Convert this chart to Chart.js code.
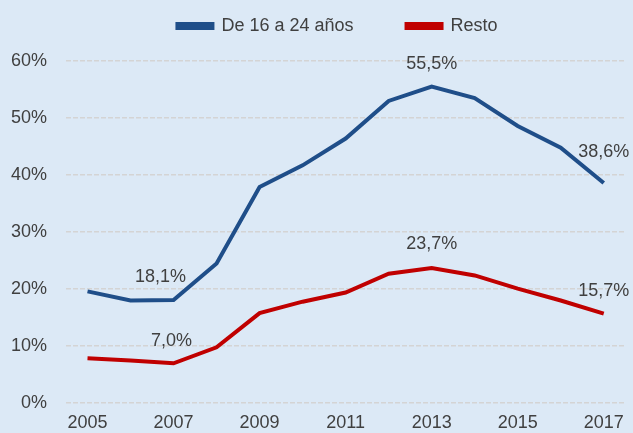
<!DOCTYPE html>
<html>
<head>
<meta charset="utf-8">
<script src="https://cdn.jsdelivr.net/npm/chart.js@4.4.1/dist/chart.umd.min.js"></script>
<style>
  html, body { margin: 0; padding: 0; background: #dce9f6; }
  #wrap { width: 633px; height: 433px; }
</style>
</head>
<body>
<div id="wrap"><canvas id="grafico" width="633" height="433"></canvas></div>
<script>
    const anios = ['2005','2006','2007','2008','2009','2010','2011','2012','2013','2014','2015','2016','2017'];
    const jovenes = [19.6, 18.0, 18.1, 24.5, 37.9, 41.7, 46.4, 53.0, 55.5, 53.5, 48.6, 44.8, 38.6];
    const resto = [7.9, 7.5, 7.0, 9.8, 15.8, 17.8, 19.4, 22.7, 23.7, 22.4, 20.1, 18.0, 15.7];
    const ticksY = [0, 10, 20, 30, 40, 50, 60];

    // indices with visible data labels
    const etiquetasJovenes = [2, 8, 12];
    const etiquetasResto = [2, 8, 12];

    const azul = '#1f4e89';
    const rojo = '#c00000';
    const fuente = '"Liberation Sans", Arial, sans-serif';

    const pluginEtiquetas = {
        id: 'etiquetas',
        afterDatasetsDraw(chart) {
            const ctx = chart.ctx;
            const x = chart.scales.x;
            const y = chart.scales.y;
            ctx.save();
            ctx.font = '18px ' + fuente;
            ctx.fillStyle = '#404040';
            ctx.textAlign = 'center';
            ctx.textBaseline = 'middle';
            const dibujar = (serie, indices, dxs, dys) => {
                indices.forEach((i, k) => {
                    const px = x.getPixelForValue(i) + dxs[k];
                    const py = y.getPixelForValue(serie[i]) + dys[k];
                    ctx.fillText(serie[i].toFixed(1).replace('.', ',') + '%', px, py);
                });
            };
            dibujar(jovenes, etiquetasJovenes, [-13, 0, 0], [-23, -23, -31]);
            dibujar(resto, etiquetasResto, [-2, 0, 0], [-22, -24, -23]);
            ctx.restore();
        }
    };

    const fondo = {
        id: 'fondo',
        beforeDraw(chart) {
            const ctx = chart.ctx;
            ctx.save();
            ctx.fillStyle = '#dce9f6';
            ctx.fillRect(0, 0, chart.width, chart.height);
            ctx.restore();
        }
    };

    // fija la altura de la leyenda y la desplaza como en el original
    const ajusteLeyenda = {
        id: 'ajusteLeyenda',
        beforeInit(chart) {
            const leyenda = chart.legend;
            if (!leyenda) return;
            const fitOriginal = leyenda.fit;
            leyenda.fit = function() {
                fitOriginal.call(this);
                this.height = 53;
            };
            const drawOriginal = leyenda._draw;
            leyenda._draw = function() {
                const ctx = this.ctx;
                ctx.save();
                ctx.translate(24, -44);
                drawOriginal.apply(this, arguments);
                ctx.restore();
            };
        }
    };

    Chart.defaults.font.family = fuente;
    Chart.defaults.font.size = 18;
    Chart.defaults.color = '#404040';

    const config = {
        type: 'line',
        data: {
            labels: anios,
            datasets: [{
                    label: 'De 16 a 24 años',
                    data: jovenes,
                    borderColor: azul,
                    backgroundColor: azul,
                    borderWidth: 4,
                    pointRadius: 0,
                    tension: 0
                },
                {
                    label: 'Resto',
                    data: resto,
                    borderColor: rojo,
                    backgroundColor: rojo,
                    borderWidth: 4,
                    pointRadius: 0,
                    tension: 0
                }
            ]
        },
        options: {
            responsive: false,
            animation: false,
            layout: {
                padding: { top: 8, right: 6, left: 0, bottom: 0 }
            },
            scales: {
                x: {
                    offset: true,
                    grid: { display: false, drawTicks: false },
                    border: { display: false },
                    afterFit: function(scale) {
                        scale.height = 29;
                    },
                    ticks: {
                        autoSkip: false,
                        maxRotation: 0,
                        padding: 9,
                        callback: function(value, index) {
                            return index % 2 === 0 ? anios[index] : '';
                        }
                    }
                },
                y: {
                    min: 0,
                    max: 60,
                    afterBuildTicks: function(scale) {
                        scale.ticks = ticksY.map(v => ({ value: v }));
                    },
                    afterFit: function(scale) {
                        scale.width = 66;
                    },
                    grid: {
                        color: '#d4d4d4',
                        lineWidth: 1.5,
                        drawTicks: false
                    },
                    border: { display: false, dash: [5, 2] },
                    ticks: {
                        padding: 19,
                        callback: function(value) {
                            return value + '%';
                        }
                    }
                }
            },
            plugins: {
                legend: {
                    position: 'top',
                    labels: {
                        boxWidth: 35,
                        boxHeight: 4,
                        padding: 53
                    }
                },
                tooltip: { enabled: false }
            }
        },
        plugins: [fondo, ajusteLeyenda, pluginEtiquetas]
    };

    const ctx = document.getElementById('grafico').getContext('2d');
    new Chart(ctx, config);
</script>
</body>
</html>
